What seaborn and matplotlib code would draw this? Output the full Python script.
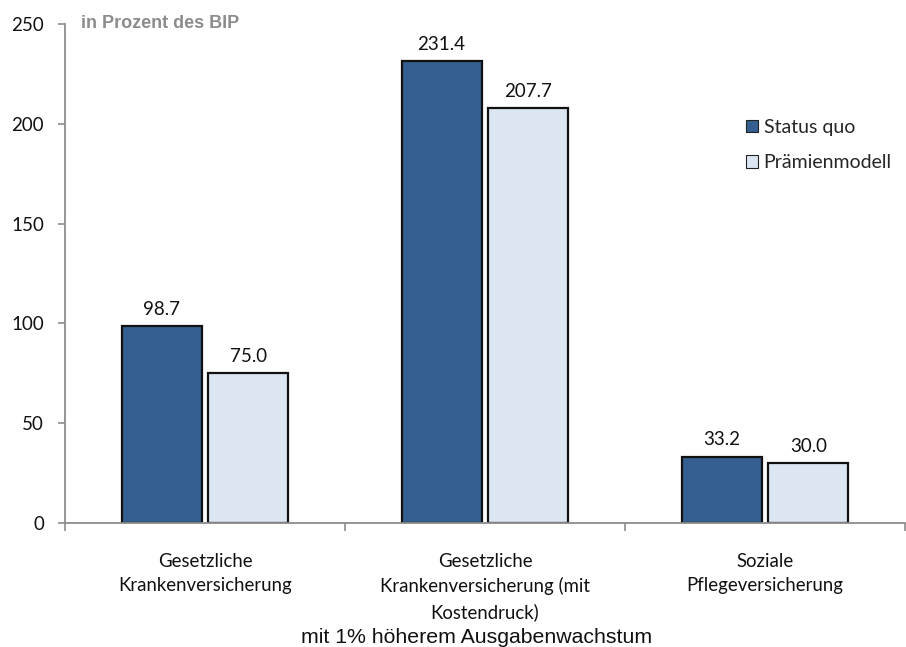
import matplotlib
matplotlib.use("Agg")
import matplotlib.pyplot as plt
import seaborn as sns
import pandas as pd
import numpy as np

categories = ["Gesetzliche\nKrankenversicherung",
              "Gesetzliche\nKrankenversicherung (mit\nKostendruck)",
              "Soziale\nPflegeversicherung"]
series = ["Status quo", "Prämienmodell"]
status_quo = [98.7, 231.4, 33.2]
praemien = [75.0, 207.7, 30.0]
yticks = [0, 50, 100, 150, 200, 250]

df = pd.DataFrame({
    "cat": categories * 2,
    "series": [series[0]] * 3 + [series[1]] * 3,
    "value": status_quo + praemien,
})

sns.set_theme(style="white")
plt.rcParams['font.family'] = ['Lato', 'DejaVu Sans']

fig = plt.figure(figsize=(9.06, 6.47), dpi=100)
ax = fig.add_axes([65/906, 1-523/647, 840/906, 499/647])

palette = {series[0]: "#365F91", series[1]: "#DCE6F2"}
sns.barplot(data=df, x="cat", y="value", hue="series", palette=palette,
            width=0.62, gap=0.08, edgecolor="#111111", linewidth=1.6,
            saturation=1, ax=ax, legend=True)

ax.set_xlim(-0.5, 2.5)
ax.set_ylim(0, 250)
ax.set_yticks(yticks)
ax.set_xlabel("")
ax.set_ylabel("")

for c in ax.containers:
    ax.bar_label(c, labels=[f"{v:.1f}" for v in c.datavalues], padding=6,
                 fontsize=13.5, color="#111111")

for s in ["top", "right"]:
    ax.spines[s].set_visible(False)
for s in ["left", "bottom"]:
    ax.spines[s].set_color("#8c8c8c")
    ax.spines[s].set_linewidth(1.3)

ax.tick_params(axis="y", which="major", left=True, length=5, width=1.2,
               color="#8c8c8c", labelsize=13.5, labelcolor="#111111", pad=10)
ax.tick_params(axis="x", which="major", bottom=False, length=0,
               labelsize=13.4, labelcolor="#111111", pad=21.5)
ax.set_xticks([-0.5, 0.5, 1.5, 2.5], minor=True)
ax.tick_params(axis="x", which="minor", bottom=True, length=6, width=1.2,
               color="#8c8c8c")
for lbl in ax.get_xticklabels():
    lbl.set_linespacing(1.5)
    lbl.set_ha("center")

ax.text(0.97, -0.229, "mit 1% höherem Ausgabenwachstum",
        transform=ax.get_xaxis_transform(), ha="center", va="center",
        fontsize=15.3, family=["Liberation Sans", "DejaVu Sans"], color="#111111")

ax.text(-0.443, 250, "in Prozent des BIP", ha="left", va="center",
        fontsize=13, fontweight="bold", color="#8c8c8c",
        family=["Liberation Sans", "DejaVu Sans"])

leg = ax.legend(loc="upper left", bbox_to_anchor=(0.79, 0.845), frameon=False,
                fontsize=14, handlelength=0.6, handleheight=0.6,
                handletextpad=0.3, labelspacing=0.95)
for h in leg.legend_handles:
    h.set_edgecolor("#222222")
    h.set_linewidth(0.8)

fig.savefig("out.png", dpi=100)
